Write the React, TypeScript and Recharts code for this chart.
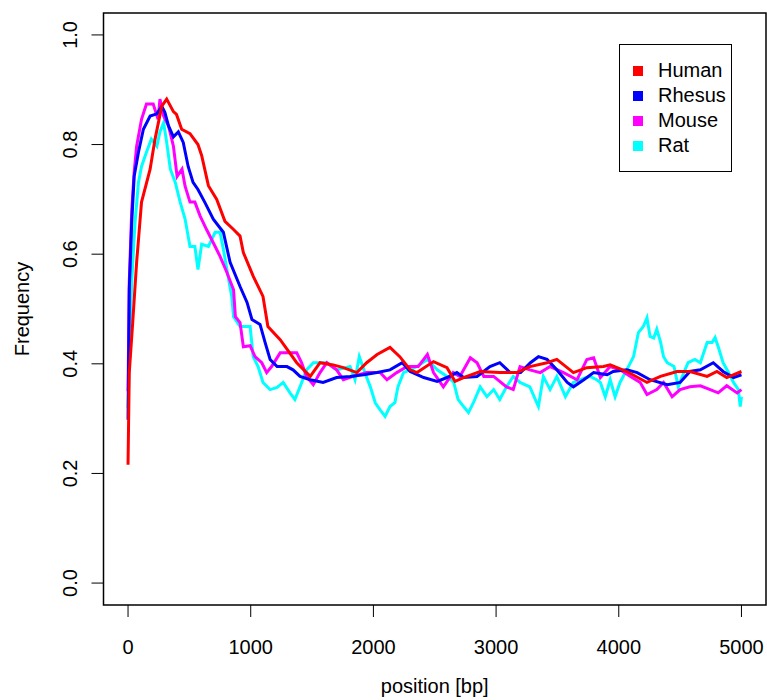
import React from "react";
import { LineChart, Line, XAxis, YAxis, ReferenceArea } from "recharts";

// ---- Data ----
const humanPos = [0, 10, 38, 70, 110, 180, 220, 275, 315, 370, 395, 437, 505, 570, 600, 655, 723, 790, 860, 913, 940, 1020, 1100, 1140, 1240, 1375, 1485, 1565, 1672, 1755, 1865, 1945, 2030, 2135, 2215, 2300, 2355, 2490, 2600, 2665, 2735, 2870, 3030, 3170, 3275, 3415, 3495, 3630, 3740, 3875, 3930, 4065, 4230, 4340, 4475, 4580, 4720, 4800, 4880, 5000];
const humanFreq = [0.216, 0.384, 0.475, 0.585, 0.695, 0.755, 0.81, 0.87, 0.883, 0.86, 0.855, 0.828, 0.82, 0.8, 0.78, 0.725, 0.7, 0.66, 0.645, 0.633, 0.603, 0.56, 0.523, 0.468, 0.444, 0.402, 0.377, 0.402, 0.398, 0.393, 0.384, 0.402, 0.417, 0.43, 0.413, 0.389, 0.384, 0.404, 0.393, 0.368, 0.375, 0.386, 0.384, 0.384, 0.395, 0.402, 0.408, 0.384, 0.393, 0.395, 0.398, 0.386, 0.366, 0.377, 0.386, 0.386, 0.377, 0.386, 0.375, 0.386];

const rhesusPos = [0, 10, 30, 50, 85, 125, 180, 235, 275, 300, 330, 370, 410, 450, 490, 530, 570, 625, 695, 777, 832, 913, 970, 1010, 1076, 1117, 1158, 1215, 1295, 1345, 1402, 1485, 1590, 1700, 1810, 1920, 2030, 2135, 2235, 2300, 2410, 2520, 2600, 2680, 2735, 2845, 2950, 3030, 3115, 3200, 3280, 3345, 3415, 3495, 3580, 3630, 3715, 3795, 3905, 3955, 4065, 4150, 4255, 4395, 4500, 4580, 4665, 4770, 4850, 4935, 5000];
const rhesusFreq = [0.298, 0.535, 0.658, 0.742, 0.786, 0.828, 0.852, 0.856, 0.87, 0.859, 0.834, 0.814, 0.823, 0.804, 0.76, 0.731, 0.718, 0.695, 0.664, 0.64, 0.585, 0.541, 0.512, 0.481, 0.472, 0.439, 0.408, 0.395, 0.395, 0.389, 0.377, 0.371, 0.366, 0.375, 0.377, 0.38, 0.384, 0.389, 0.402, 0.386, 0.375, 0.368, 0.375, 0.384, 0.375, 0.377, 0.395, 0.402, 0.384, 0.384, 0.402, 0.413, 0.408, 0.389, 0.366, 0.358, 0.371, 0.384, 0.38, 0.386, 0.389, 0.384, 0.371, 0.362, 0.366, 0.386, 0.389, 0.402, 0.386, 0.375, 0.38];

const mousePos = [0, 10, 30, 50, 70, 110, 150, 205, 245, 260, 290, 330, 370, 400, 440, 465, 505, 545, 587, 640, 710, 750, 805, 860, 875, 913, 940, 995, 1035, 1090, 1130, 1170, 1240, 1305, 1375, 1415, 1455, 1510, 1565, 1620, 1700, 1755, 1835, 1945, 2055, 2110, 2190, 2275, 2365, 2440, 2490, 2570, 2650, 2705, 2790, 2845, 2900, 2980, 3085, 3140, 3195, 3275, 3360, 3440, 3550, 3660, 3740, 3795, 3850, 3930, 4010, 4095, 4175, 4230, 4310, 4365, 4435, 4500, 4580, 4665, 4745, 4810, 4880, 4965, 5000];
const mouseFreq = [0.35, 0.55, 0.68, 0.75, 0.797, 0.846, 0.874, 0.874, 0.846, 0.883, 0.852, 0.834, 0.797, 0.742, 0.755, 0.724, 0.695, 0.695, 0.67, 0.645, 0.614, 0.596, 0.567, 0.535, 0.486, 0.475, 0.431, 0.433, 0.413, 0.402, 0.384, 0.395, 0.42, 0.42, 0.42, 0.402, 0.377, 0.362, 0.384, 0.402, 0.389, 0.371, 0.377, 0.384, 0.384, 0.371, 0.384, 0.395, 0.395, 0.417, 0.384, 0.358, 0.384, 0.377, 0.411, 0.402, 0.377, 0.377, 0.358, 0.353, 0.395, 0.389, 0.384, 0.395, 0.384, 0.371, 0.408, 0.411, 0.375, 0.395, 0.389, 0.377, 0.366, 0.344, 0.353, 0.366, 0.34, 0.353, 0.358, 0.36, 0.353, 0.347, 0.36, 0.347, 0.353];

const ratPos = [0, 15, 30, 57, 85, 110, 150, 190, 235, 260, 290, 315, 345, 385, 425, 465, 505, 545, 570, 600, 655, 710, 750, 777, 815, 845, 860, 913, 995, 1020, 1060, 1100, 1158, 1215, 1265, 1320, 1360, 1400, 1455, 1510, 1620, 1700, 1810, 1850, 1885, 1930, 1975, 2015, 2055, 2095, 2135, 2175, 2200, 2245, 2300, 2355, 2440, 2520, 2600, 2655, 2690, 2735, 2775, 2815, 2870, 2925, 2980, 3030, 3085, 3140, 3195, 3275, 3345, 3385, 3440, 3495, 3565, 3630, 3685, 3765, 3820, 3850, 3890, 3930, 3970, 4010, 4065, 4120, 4160, 4200, 4230, 4255, 4285, 4310, 4340, 4365, 4395, 4450, 4485, 4530, 4565, 4620, 4665, 4720, 4760, 4785, 4815, 4850, 4890, 4935, 4975, 4990, 5000];
const ratFreq = [0.32, 0.45, 0.55, 0.658, 0.731, 0.76, 0.786, 0.81, 0.797, 0.823, 0.84, 0.804, 0.755, 0.731, 0.695, 0.664, 0.614, 0.614, 0.572, 0.618, 0.614, 0.64, 0.64, 0.609, 0.56, 0.523, 0.486, 0.468, 0.468, 0.413, 0.395, 0.366, 0.353, 0.357, 0.366, 0.347, 0.335, 0.357, 0.389, 0.402, 0.402, 0.389, 0.395, 0.371, 0.413, 0.384, 0.358, 0.329, 0.316, 0.304, 0.322, 0.329, 0.358, 0.384, 0.389, 0.395, 0.408, 0.389, 0.377, 0.366, 0.335, 0.322, 0.311, 0.329, 0.358, 0.34, 0.353, 0.335, 0.358, 0.377, 0.366, 0.358, 0.322, 0.377, 0.353, 0.377, 0.34, 0.366, 0.371, 0.377, 0.371, 0.366, 0.34, 0.371, 0.34, 0.366, 0.389, 0.413, 0.457, 0.468, 0.484, 0.45, 0.447, 0.463, 0.44, 0.413, 0.402, 0.395, 0.358, 0.384, 0.402, 0.408, 0.402, 0.439, 0.439, 0.448, 0.428, 0.402, 0.386, 0.366, 0.353, 0.322, 0.34];

const xTicks = [0, 1000, 2000, 3000, 4000, 5000];
const yTicks = [0, 0.2, 0.4, 0.6, 0.8, 1.0];
const seriesNames = ["Human", "Rhesus", "Mouse", "Rat"];
const seriesColors = ["#FF0000", "#0000FF", "#FF00FF", "#00FFFF"];

const toRows = (pos: number[], freq: number[]) => pos.map((p, i) => ({ pos: p, freq: freq[i] }));
const humanData = toRows(humanPos, humanFreq);
const rhesusData = toRows(rhesusPos, rhesusFreq);
const mouseData = toRows(mousePos, mouseFreq);
const ratData = toRows(ratPos, ratFreq);

const FONT = "'Liberation Sans', Arial, Helvetica, sans-serif";

const XTick = (props: any) => {
  const { x, payload } = props;
  return (
    <text x={x} y={647} textAnchor="middle" dominantBaseline="central" fontSize={20} fontFamily={FONT} fill="#000">
      {payload.value}
    </text>
  );
};

const YTick = (props: any) => {
  const { y, payload } = props;
  const cx = 70;
  return (
    <text x={cx} y={y} transform={`rotate(-90, ${cx}, ${y})`} textAnchor="middle" dominantBaseline="central" fontSize={20} fontFamily={FONT} fill="#000">
      {Number(payload.value).toFixed(1)}
    </text>
  );
};

export default function App() {
  return (
    <div style={{ position: "relative", width: 767, height: 700, background: "#fff" }}>
      <style>{`body{margin:0;}`}</style>
      <LineChart width={767} height={700} margin={{ top: 13, right: 1, left: 0, bottom: 0 }}>
        <XAxis
          type="number"
          dataKey="pos"
          domain={[-200, 5200]}
          ticks={xTicks}
          allowDataOverflow
          axisLine={false}
          tickSize={12}
          tickLine={{ stroke: "#000", strokeWidth: 1 }}
          tick={<XTick />}
          height={95}
          interval={0}
          label={{
            content: (p: any) => {
              const vb = p.viewBox || {};
              return (
                <text x={vb.x + vb.width / 2} y={686} textAnchor="middle" dominantBaseline="central" fontSize={20} fontFamily={FONT} fill="#000">
                  position [bp]
                </text>
              );
            },
          }}
        />
        <YAxis
          type="number"
          dataKey="freq"
          domain={[-0.04, 1.04]}
          ticks={yTicks}
          allowDataOverflow
          axisLine={false}
          tickSize={12}
          tickLine={{ stroke: "#000", strokeWidth: 1 }}
          tick={<YTick />}
          width={103.5}
          interval={0}
          label={{
            content: (p: any) => {
              const vb = p.viewBox || {};
              const cy = vb.y + vb.height / 2;
              return (
                <text x={22} y={cy} transform={`rotate(-90, 22, ${cy})`} textAnchor="middle" dominantBaseline="central" fontSize={20} fontFamily={FONT} fill="#000">
                  Frequency
                </text>
              );
            },
          }}
        />
        <Line data={ratData} dataKey="freq" stroke={seriesColors[3]} strokeWidth={3} dot={false} isAnimationActive={false} type="linear" strokeLinejoin="miter" />
        <Line data={mouseData} dataKey="freq" stroke={seriesColors[2]} strokeWidth={3} dot={false} isAnimationActive={false} type="linear" strokeLinejoin="miter" />
        <Line data={rhesusData} dataKey="freq" stroke={seriesColors[1]} strokeWidth={3} dot={false} isAnimationActive={false} type="linear" strokeLinejoin="miter" />
        <Line data={humanData} dataKey="freq" stroke={seriesColors[0]} strokeWidth={3} dot={false} isAnimationActive={false} type="linear" strokeLinejoin="miter" />
        <ReferenceArea x1={-200} x2={5200} y1={-0.04} y2={1.04} fill="none" stroke="#000" strokeWidth={1.5} ifOverflow="visible" />
      </LineChart>
      <div
        style={{
          position: "absolute",
          left: 619,
          top: 44,
          width: 113,
          height: 128,
          border: "1.5px solid #000",
          boxSizing: "border-box",
          fontFamily: FONT,
          fontSize: 20,
          color: "#000",
        }}
      >
        {seriesNames.map((name, i) => (
          <div key={name} style={{ position: "absolute", left: 0, top: 26 - 44 + 44 - 13 + i * 25, height: 25, display: "flex", alignItems: "center" }}>
            <span style={{ display: "inline-block", width: 10, height: 10, background: seriesColors[i], marginLeft: 13 }} />
            <span style={{ marginLeft: 15, lineHeight: "25px" }}>{name}</span>
          </div>
        ))}
      </div>
    </div>
  );
}
